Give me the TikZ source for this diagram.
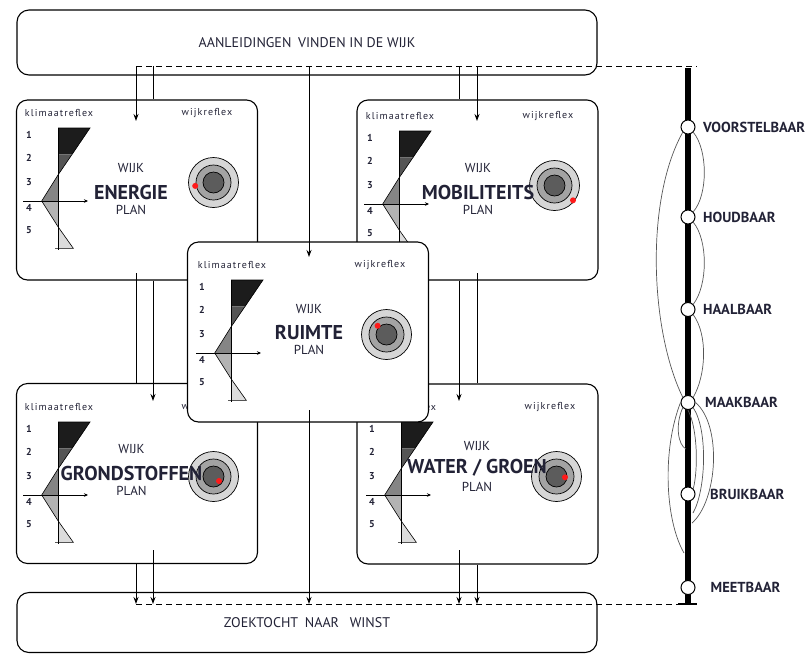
\documentclass[tikz,border=0pt]{standalone}
\usepackage{fontspec}
\setmainfont{PT Sans}
\usetikzlibrary{arrows.meta}
\definecolor{txt}{HTML}{222236}
\definecolor{cA}{HTML}{1C1C1C}
\definecolor{cB}{HTML}{555555}
\definecolor{cC}{HTML}{858585}
\definecolor{cD}{HTML}{B3B3B3}
\definecolor{cE}{HTML}{DCDCDC}
\definecolor{rA}{HTML}{D6D6D6}
\definecolor{rB}{HTML}{A3A3A3}
\definecolor{rC}{HTML}{5C5C5C}
\definecolor{dotred}{HTML}{FF1A1A}
\definecolor{arcgray}{HTML}{555555}

\newcommand\cardinner[5]{%
\begin{scope}[shift={(#2,#3)}]
 \fill[cA] (41,28) -- (73,28) -- (55.3,54.3) -- (41,54.3) -- cycle;
 \fill[cB] (41,54.3) -- (55.3,54.3) -- (41,75) -- cycle;
 \fill[cC] (41,75) -- (24.7,101) -- (41,101) -- cycle;
 \fill[cD] (41,101) -- (24.7,101) -- (41,126.7) -- cycle;
 \fill[cE] (41,126.7) -- (56.3,148.3) -- (41,148.3) -- cycle;
 \draw[line width=0.6pt] (41,28) -- (73,28) -- (41,75) -- (24.7,101) -- (41,126.7) -- (56.3,148.3) -- (38,148.3);
 \draw[line width=0.7pt] (41,28) -- (41,150);
 \draw[line width=0.7pt,-{Stealth[length=4pt,width=3.5pt]}] (6,101) -- (71,101);
 \node[smalltxt] (#1-k) at (42,13) {klimaatreflex};
 \node[smalltxt] (#1-w) at (190,13) {wijkreflex};
 \node[numtxt] (#1-n1) at (12,35) {1};
 \node[numtxt] (#1-n2) at (12,58) {2};
 \node[numtxt] (#1-n3) at (12,82) {3};
 \node[numtxt] (#1-n4) at (12,108) {4};
 \node[numtxt] (#1-n5) at (12,130) {5};
 \node[ringA] (#1-t1) at (196.5,82.5) {};
 \node[ringB] (#1-t2) at (196.5,82.5) {};
 \node[ringC] (#1-t3) at (196.5,82.5) {};
 \node[reddot] (#1-dot) at (#4,#5) {};
\end{scope}}

\begin{document}
\begin{tikzpicture}[x=1pt,y=-1pt,
  bigbox/.style={draw, line width=1.1pt, rounded corners=12pt, fill=white, inner sep=0pt, text=txt, font=\fontsize{14}{16}\selectfont},
  cardbox/.style={draw, line width=1.1pt, rounded corners=11pt, fill=white, inner sep=0pt, minimum width=241pt, minimum height=180pt},
  smalltxt/.style={inner sep=0pt, text=txt, font=\fontsize{10}{11}\selectfont\addfontfeature{LetterSpace=11}},
  numtxt/.style={inner sep=0pt, text=txt, font=\bfseries\fontsize{10}{11}\selectfont},
  wijktxt/.style={inner sep=0pt, text=txt, font=\fontsize{13}{14}\selectfont},
  titletxt/.style={inner sep=0pt, text=txt, font=\bfseries\fontsize{20}{22}\selectfont},
  ringA/.style={circle, draw, line width=0.7pt, fill=rA, minimum size=50pt, inner sep=0pt},
  ringB/.style={circle, draw, line width=0.7pt, fill=rB, minimum size=35pt, inner sep=0pt},
  ringC/.style={circle, draw, line width=0.7pt, fill=rC, minimum size=21pt, inner sep=0pt},
  reddot/.style={circle, fill=dotred, minimum size=6pt, inner sep=0pt},
  conn/.style={line width=0.9pt},
  arr/.style={line width=0.9pt, -{Stealth[length=7pt,width=5pt]}},
  dashline/.style={line width=0.9pt, dash pattern=on 6pt off 4pt},
  spine/.style={line width=5.5pt},
  station/.style={circle, draw, line width=1pt, fill=white, minimum size=14pt, inner sep=0pt},
  slabel/.style={anchor=west, inner sep=0pt, text=txt, font=\bfseries\fontsize{14.5}{16}\selectfont},
  arc/.style={line width=0.7pt, draw=arcgray}
]
\useasboundingbox (0,0) rectangle (808,657);

% top and bottom boxes
\node[bigbox, minimum width=580pt, minimum height=65pt] (top) at (307,42.5) {AANLEIDINGEN\hspace{3pt} VINDEN IN DE WIJK};
\node[bigbox, minimum width=580pt, minimum height=60pt] (bottom) at (307,622.5) {ZOEKTOCHT\hspace{3pt} NAAR\hspace{7pt} WINST};

% cards
\node[cardbox] (energie) at (137,190) {};
\cardinner{en}{17}{100}{178.2}{85.9}
\node[wijktxt] (en-wijk) at (131,168) {WIJK};
\node[titletxt] (en-title) at (131,192) {ENERGIE};
\node[wijktxt] (en-plan) at (131,210) {PLAN};

\node[cardbox] (mobil) at (477.5,190) {};
\cardinner{mo}{358}{103}{215}{97.3}
\node[wijktxt] (mo-wijk) at (478,168) {WIJK};
\node[titletxt] (mo-title) at (478,192) {MOBILITEITS};
\node[wijktxt] (mo-plan) at (478,210) {PLAN};

\node[cardbox] (grond) at (137,473.5) {};
\cardinner{gr}{17}{394}{202}{87}
\node[wijktxt] (gr-wijk) at (131.5,449) {WIJK};
\node[titletxt] (gr-title) at (131.5,473) {GRONDSTOFFEN};
\node[wijktxt] (gr-plan) at (131.5,491) {PLAN};

\node[cardbox] (water) at (477.5,474) {};
\cardinner{wa}{360}{394}{205}{83.3}
\node[wijktxt] (wa-wijk) at (477,446) {WIJK};
\node[titletxt] (wa-title) at (477,468) {WATER / GROEN};
\node[wijktxt] (wa-plan) at (477,487) {PLAN};

\node[cardbox] (ruimte) at (308,332) {};
\cardinner{ru}{190}{252}{187.6}{73.8}
\node[wijktxt] (ru-wijk) at (309,309) {WIJK};
\node[titletxt] (ru-title) at (309,333) {RUIMTE};
\node[wijktxt] (ru-plan) at (309,350) {PLAN};

% connector coordinates
\coordinate (dT1) at (136,66);
\coordinate (dT2) at (153,66);
\coordinate (dT3) at (309,66);
\coordinate (dT4) at (459,66);
\coordinate (dT5) at (477,66);
\coordinate (dTe) at (697,66);
\coordinate (dB1) at (136,604);
\coordinate (dB2) at (153,604);
\coordinate (dB3) at (309,604);
\coordinate (dB4) at (459,604);
\coordinate (dB5) at (477,604);
\coordinate (dBe) at (697,604);
\coordinate (eIn) at (136,121);
\coordinate (eOut) at (136,273);
\coordinate (gIn) at (153,401);
\coordinate (gOut) at (153,550);
\coordinate (mIn) at (477,121);
\coordinate (mOut) at (477,273);
\coordinate (wIn) at (459,401);
\coordinate (wOut) at (459,550);
\coordinate (rIn) at (309,257);
\coordinate (rOut) at (309,410);

\draw[dashline] (dT1) -- (dTe);
\draw[dashline] (dB1) -- (dBe);

% left column
\draw[arr] (dT1) -- (eIn);
\draw[conn] (dT2) -- (dT2 |- energie.north);
\draw[conn] (eOut) -- (eOut |- grond.north);
\draw[arr] (energie.south -| dT2) -- (gIn);
\draw[arr] (gOut) -- (dB2);
\draw[arr] (grond.south -| dT1) -- (dB1);
% right column
\draw[arr] (dT5) -- (mIn);
\draw[conn] (dT4) -- (dT4 |- mobil.north);
\draw[conn] (mOut) -- (mOut |- water.north);
\draw[arr] (mobil.south -| dT4) -- (wIn);
\draw[arr] (wOut) -- (dB4);
\draw[arr] (water.south -| dT5) -- (dB5);
% centre
\draw[arr] (dT3) -- (rIn);
\draw[arr] (rOut) -- (dB3);

% right-hand scale
\coordinate (spTop) at (688,68);
\coordinate (spBot) at (688,604);
\coordinate (tickL) at (678,604);
\coordinate (tickR) at (697,604);
\draw[spine] (spTop) -- (spBot);
\draw[line width=2pt] (tickL) -- (tickR);

\node[station] (sV) at (688,127) {};
\node[station] (sH) at (688,217) {};
\node[station] (sA) at (688,309.5) {};
\node[station] (sM) at (688,402.5) {};
\node[station] (sB) at (688,494) {};
\node[station] (sE) at (688,587.5) {};

\coordinate (mL1) at (686,449);
\coordinate (mL2) at (684,553);
\coordinate (mR1) at (693,513);
\coordinate (mR2) at (692,523);

\draw[arc] (sV.south east) .. controls (708,150) and (708,195) .. (sH.north east);
\draw[arc] (sH.south east) .. controls (708,240) and (708,285) .. (sA.north east);
\draw[arc] (sA.south east) .. controls (708,335) and (706,375) .. (sM.north east);
\draw[arc] (sV.south west) .. controls (645,200) and (650,330) .. (sM.north west);
\draw[arc] (sM.south west) .. controls (675,425) and (678,445) .. (mL1);
\draw[arc] (sM.west) .. controls (662,450) and (665,520) .. (mL2);
\draw[arc] (sM.east) .. controls (722,425) and (718,500) .. (mR2);
\draw[arc] (sM.south east) .. controls (708,430) and (706,490) .. (mR1);
\draw[arc] (sM.south) .. controls (698,430) and (698,470) .. (sB.north east);

\node[slabel] (lV) at (703,127) {VOORSTELBAAR};
\node[slabel] (lH) at (703,217) {HOUDBAAR};
\node[slabel] (lA) at (703,309.5) {HAALBAAR};
\node[slabel] (lM) at (705,402.5) {MAAKBAAR};
\node[slabel] (lB) at (710,494) {BRUIKBAAR};
\node[slabel] (lE) at (710.5,587.5) {MEETBAAR};
\end{tikzpicture}
\end{document}
